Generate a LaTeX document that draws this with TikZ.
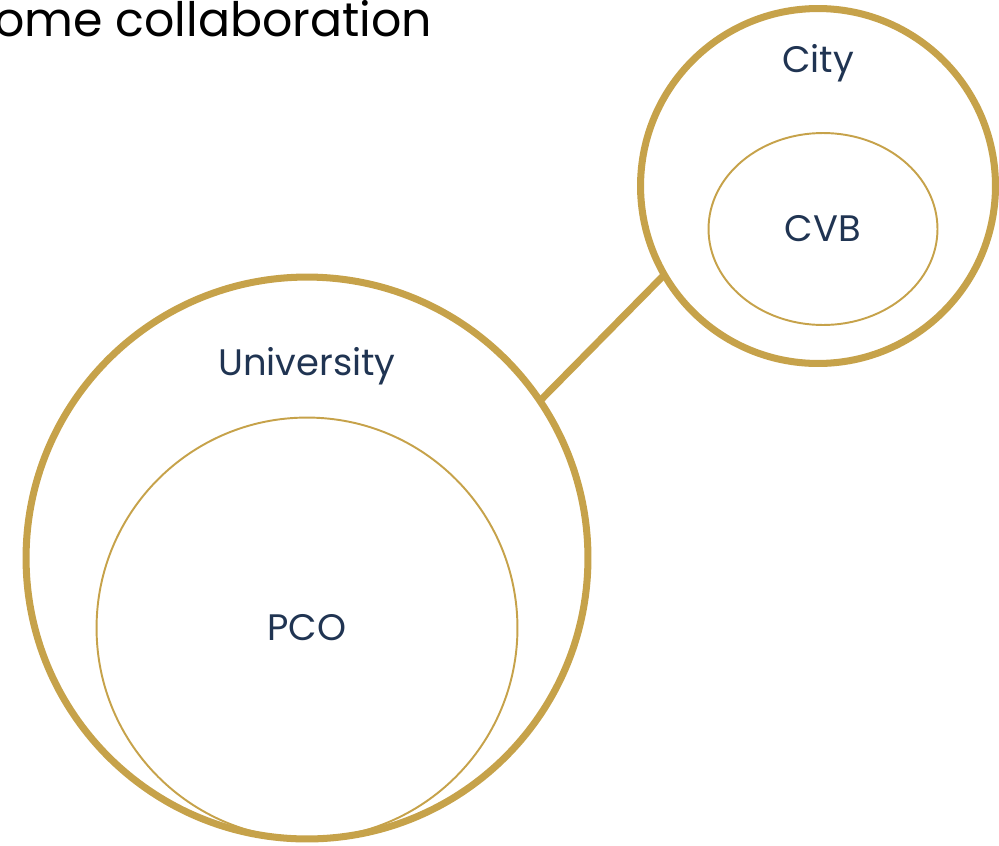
\documentclass[tikz,border=0pt]{standalone}
\usepackage{fontspec}
\setmainfont{Poppins}
\usetikzlibrary{shapes.geometric}
\definecolor{gold}{HTML}{C6A24A}
\definecolor{navy}{HTML}{203452}
\tikzset{
  outer ring/.style={draw=gold, line width=4pt, circle, outer sep=0pt},
  inner ring/.style={draw=gold, line width=1.1pt, outer sep=0pt},
  tag/.style={text=navy, font=\fontsize{21}{24}\selectfont}
}
\begin{document}
\begin{tikzpicture}[x=0.02cm, y=-0.02cm]
  \useasboundingbox (0,0) rectangle (999,845);
  \clip (0,0) rectangle (999,845);

  % heading, runs off the left edge
  \node (head) [anchor=base west, inner sep=0, font=\fontsize{27}{31}\selectfont]
        at (-6,36) {ome collaboration};

  % university with the PCO inside
  \node (univ) [outer ring, minimum size=11.24cm] at (307,558) {};
  \node (pco)  [inner ring, circle, minimum size=8.42cm] at (307,628) {};
  \node (univlbl) [tag] at (307,366) {University};
  \node (pcolbl)  [tag] at (pco.center) {PCO};

  % city with the CVB inside
  \node (city) [outer ring, minimum size=7.1cm] at (818,186) {};
  \node (cvb)  [inner ring, ellipse, minimum width=4.58cm, minimum height=3.84cm] at (823,229) {};
  \node (citylbl) [tag] at (818,63) {City};
  \node (cvblbl)  [tag] at (cvb.center) {CVB};

  \draw[gold, line width=4pt] (univ.34.3) -- (city.210.6);
\end{tikzpicture}
\end{document}
